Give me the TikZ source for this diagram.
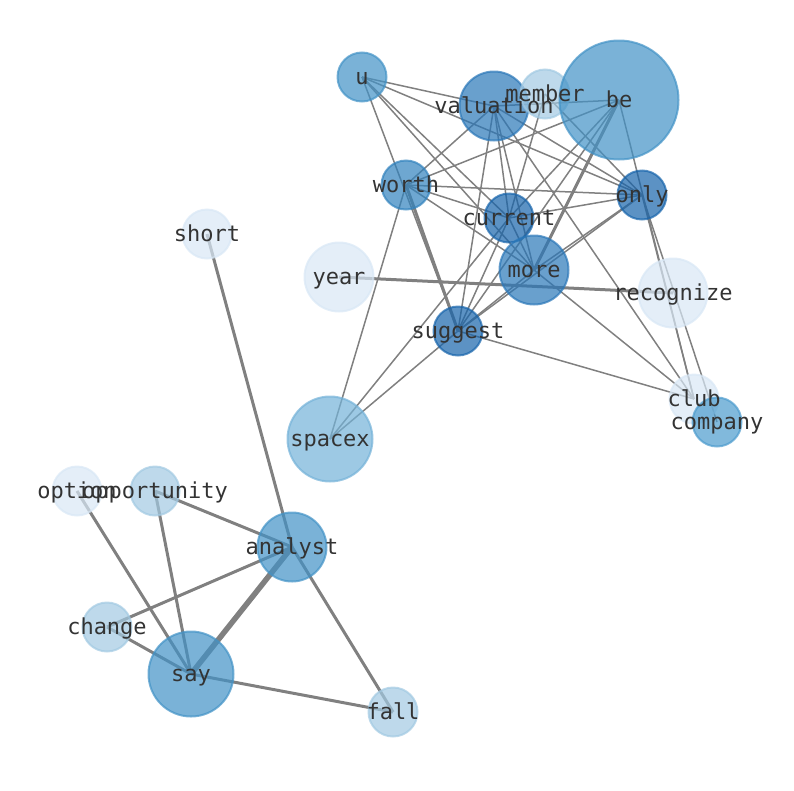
\documentclass[tikz,border=0pt]{standalone}
\usepackage{fontspec}
\setmonofont{DejaVu Sans Mono}
\usepackage{tikz}
\usetikzlibrary{backgrounds}

\definecolor{blueA}{HTML}{D8E7F5}
\definecolor{blueB}{HTML}{A2C9E2}
\definecolor{blueC}{HTML}{74B2D8}
\definecolor{blueD}{HTML}{4C9BCD}
\definecolor{blueE}{HTML}{4292C6}
\definecolor{blueF}{HTML}{3182BD}
\definecolor{blueG}{HTML}{2A77B8}
\definecolor{blueH}{HTML}{1764AB}

\tikzset{
	bub/.style={circle, inner sep=0pt, line width=2pt, opacity=0.7},
	word/.style={font=\ttfamily\fontsize{22}{22}\selectfont, text=black!80,
		inner sep=0pt, text height=16.7pt, text depth=2.2pt},
	link/.style={draw=black!50, line width=1.5pt},
	heavy/.style={draw=black!50, line width=3pt},
}

\begin{document}
\begin{tikzpicture}[x=1pt,y=-1pt]
	\useasboundingbox (0,0) rectangle (794,790);
	% nodes
	\node[bub, fill=blueE, draw=blueE, minimum size=49pt] (u) at (362,77) {};
	\node[bub, fill=blueG, draw=blueG, minimum size=69pt] (valuation) at (494,106) {};
	\node[bub, fill=blueB, draw=blueB, minimum size=49pt] (member) at (545,94) {};
	\node[bub, fill=blueE, draw=blueE, minimum size=119pt] (be) at (619,100) {};
	\node[bub, fill=blueF, draw=blueF, minimum size=49pt] (worth) at (406,185) {};
	\node[bub, fill=blueH, draw=blueH, minimum size=49pt] (only) at (642,195) {};
	\node[bub, fill=blueH, draw=blueH, minimum size=49pt] (current) at (509,218) {};
	\node[bub, fill=blueG, draw=blueG, minimum size=69pt] (more) at (534,270) {};
	\node[bub, fill=blueA, draw=blueA, minimum size=69pt] (year) at (339,277) {};
	\node[bub, fill=blueA, draw=blueA, minimum size=69pt] (recognize) at (673,293) {};
	\node[bub, fill=blueH, draw=blueH, minimum size=49pt] (suggest) at (458,331) {};
	\node[bub, fill=blueA, draw=blueA, minimum size=49pt] (club) at (694,399) {};
	\node[bub, fill=blueD, draw=blueD, minimum size=49pt] (company) at (717,422) {};
	\node[bub, fill=blueC, draw=blueC, minimum size=85pt] (spacex) at (330,439) {};
	\node[bub, fill=blueA, draw=blueA, minimum size=49pt] (short) at (207,234) {};
	\node[bub, fill=blueA, draw=blueA, minimum size=49pt] (option) at (77,491) {};
	\node[bub, fill=blueB, draw=blueB, minimum size=49pt] (opportunity) at (155,491) {};
	\node[bub, fill=blueE, draw=blueE, minimum size=69pt] (analyst) at (292,547) {};
	\node[bub, fill=blueB, draw=blueB, minimum size=49pt] (change) at (107,627) {};
	\node[bub, fill=blueE, draw=blueE, minimum size=85pt] (say) at (191,674) {};
	\node[bub, fill=blueB, draw=blueB, minimum size=49pt] (fall) at (393,712) {};

	% edges
	\begin{scope}[on background layer]
		\draw[link] (u.center) -- (valuation.center);
		\draw[link] (u.center) -- (only.center);
		\draw[link] (u.center) -- (current.center);
		\draw[link] (u.center) -- (more.center);
		\draw[link] (u.center) -- (suggest.center);
		\draw[link] (valuation.center) -- (be.center);
		\draw[link] (valuation.center) -- (worth.center);
		\draw[link] (valuation.center) -- (only.center);
		\draw[link] (valuation.center) -- (current.center);
		\draw[link] (valuation.center) -- (more.center);
		\draw[link] (valuation.center) -- (suggest.center);
		\draw[link] (valuation.center) -- (club.center);
		\draw[link] (member.center) -- (current.center);
		\draw[link] (member.center) -- (only.center);
		\draw[link] (be.center) -- (worth.center);
		\draw[link] (be.center) -- (current.center);
		\draw[link] (be.center) -- (suggest.center);
		\draw[link] (be.center) -- (club.center);
		\draw[heavy] (be.center) -- (more.center);
		\draw[link] (worth.center) -- (only.center);
		\draw[link] (worth.center) -- (current.center);
		\draw[link] (worth.center) -- (more.center);
		\draw[link] (worth.center) -- (spacex.center);
		\draw[heavy] (worth.center) -- (suggest.center);
		\draw[link] (current.center) -- (only.center);
		\draw[link] (current.center) -- (more.center);
		\draw[link] (current.center) -- (suggest.center);
		\draw[link] (only.center) -- (more.center);
		\draw[link] (only.center) -- (suggest.center);
		\draw[link] (only.center) -- (club.center);
		\draw[link] (only.center) -- (company.center);
		\draw[link] (more.center) -- (suggest.center);
		\draw[link] (more.center) -- (club.center);
		\draw[link] (suggest.center) -- (club.center);
		\draw[link] (suggest.center) -- (spacex.center);
		\draw[link] (spacex.center) -- (current.center);
		\draw[heavy] (year.center) -- (recognize.center);
		\draw[heavy] (short.center) -- (analyst.center);
		\draw[heavy] (opportunity.center) -- (analyst.center);
		\draw[heavy] (opportunity.center) -- (say.center);
		\draw[heavy] (option.center) -- (say.center);
		\draw[heavy] (change.center) -- (analyst.center);
		\draw[heavy] (change.center) -- (say.center);
		\draw[heavy, line width=5.5pt] (analyst.center) -- (say.center);
		\draw[heavy] (analyst.center) -- (fall.center);
		\draw[heavy] (say.center) -- (fall.center);
	\end{scope}

	% labels
	\node[word] at (u) {u};
	\node[word] at (valuation) {valuation};
	\node[word] at (member) {member};
	\node[word] at (be) {be};
	\node[word] at (worth) {worth};
	\node[word] at (only) {only};
	\node[word] at (current) {current};
	\node[word] at (more) {more};
	\node[word] at (year) {year};
	\node[word] at (recognize) {recognize};
	\node[word] at (suggest) {suggest};
	\node[word] at (club) {club};
	\node[word] at (company) {company};
	\node[word] at (spacex) {spacex};
	\node[word] at (short) {short};
	\node[word] at (option) {option};
	\node[word] at (opportunity) {opportunity};
	\node[word] at (analyst) {analyst};
	\node[word] at (change) {change};
	\node[word] at (say) {say};
	\node[word] at (fall) {fall};
\end{tikzpicture}
\end{document}
